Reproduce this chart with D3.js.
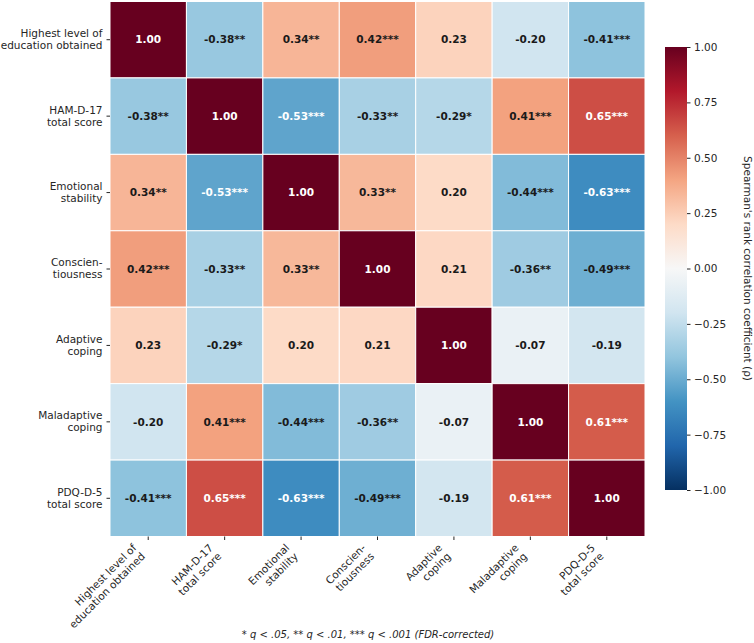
<!DOCTYPE html>
<html>
<head>
<meta charset="utf-8">
<script src="https://cdn.jsdelivr.net/npm/d3@7"></script>
<style>
  body { margin: 0; background: #fff; }
  svg { font-family: "DejaVu Sans", sans-serif; }
</style>
</head>
<body>
<div id="chart"></div>
<script>
// variables, in matrix order (two-line labels)
const varLabels = [
    ["Highest level of", "education obtained"],
    ["HAM-D-17", "total score"],
    ["Emotional", "stability"],
    ["Conscien-", "tiousness"],
    ["Adaptive", "coping"],
    ["Maladaptive", "coping"],
    ["PDQ-D-5", "total score"]
];

// Spearman's rho
const rho = [
    [1.00, -0.38, 0.34, 0.42, 0.23, -0.20, -0.41],
    [-0.38, 1.00, -0.53, -0.33, -0.29, 0.41, 0.65],
    [0.34, -0.53, 1.00, 0.33, 0.20, -0.44, -0.63],
    [0.42, -0.33, 0.33, 1.00, 0.21, -0.36, -0.49],
    [0.23, -0.29, 0.20, 0.21, 1.00, -0.07, -0.19],
    [-0.20, 0.41, -0.44, -0.36, -0.07, 1.00, 0.61],
    [-0.41, 0.65, -0.63, -0.49, -0.19, 0.61, 1.00]
];

// significance markers (FDR-corrected q)
const stars = [
    ["", "**", "**", "***", "", "", "***"],
    ["**", "", "***", "**", "*", "***", "***"],
    ["**", "***", "", "**", "", "***", "***"],
    ["***", "**", "**", "", "", "**", "***"],
    ["", "*", "", "", "", "", ""],
    ["", "***", "***", "**", "", "", "***"],
    ["***", "***", "***", "***", "", "***", ""]
];

const cbTicks = [1, 0.75, 0.5, 0.25, 0, -0.25, -0.5, -0.75, -1];

const canvWidth = 754, canvHeight = 643;
const hm = {left: 110, top: 1.5, size: 535};
const cb = {left: 665, top: 47, width: 22, height: 443};
const fontSize = 10.5;

const svg = d3.select('#chart')
    .append('svg')
    .attr('width', canvWidth)
    .attr('height', canvHeight);

const keys = varLabels.map(d => d.join(' '));

const xScale = d3.scaleBand().domain(keys).range([hm.left, hm.left + hm.size]);
const yScale = d3.scaleBand().domain(keys).range([hm.top, hm.top + hm.size]);

// RdBu_r, linear between the 11 brewer colours (like matplotlib)
const brewer = d3.schemeRdBu[11].slice().reverse();
const colorScale = d3.scaleLinear()
    .domain(d3.range(11).map(i => -1 + i * 0.2))
    .range(brewer)
    .interpolate(d3.interpolateRgb);

const cells = [];
rho.forEach((row, i) => row.forEach((v, j) => {
    cells.push({row: keys[i], col: keys[j], v: v, star: stars[i][j]});
}));

// cells
svg.append('g')
    .selectAll('rect')
    .data(cells)
    .enter()
    .append('rect')
    .attr('x', d => xScale(d.col))
    .attr('y', d => yScale(d.row))
    .attr('width', xScale.bandwidth())
    .attr('height', yScale.bandwidth())
    .attr('fill', d => colorScale(d.v))
    .attr('stroke', '#fff')
    .attr('stroke-width', 1);

// annotations: white text on the dark cells
svg.append('g')
    .selectAll('text')
    .data(cells)
    .enter()
    .append('text')
    .attr('x', d => xScale(d.col) + xScale.bandwidth() / 2)
    .attr('y', d => yScale(d.row) + yScale.bandwidth() / 2)
    .attr('dy', '0.36em')
    .attr('text-anchor', 'middle')
    .style('font-size', fontSize + 'px')
    .style('font-weight', 'bold')
    .style('fill', d => Math.abs(d.v) >= 0.5 ? '#fff' : '#1a1a1a')
    .text(d => d3.format('.2f')(d.v).replace('−', '-') + d.star);

// y axis
const yAxis = svg.append('g')
    .attr('transform', `translate(${hm.left},0)`)
    .call(d3.axisLeft(yScale).tickSize(3.5).tickPadding(4));
yAxis.select('.domain').remove();
yAxis.selectAll('line').attr('stroke', '#262626');
yAxis.selectAll('text').each(function (d, i) {
    const t = d3.select(this).text(null)
        .attr('dy', null)
        .style('font-size', fontSize + 'px')
        .style('font-family', '"DejaVu Sans", sans-serif')
        .attr('fill', '#262626');
    t.append('tspan').attr('x', -7.5).attr('dy', '-0.25em').text(varLabels[i][0]);
    t.append('tspan').attr('x', -7.5).attr('dy', '1.15em').text(varLabels[i][1]);
});

// x axis, labels rotated 45 degrees
const xAxis = svg.append('g')
    .attr('transform', `translate(0,${hm.top + hm.size})`)
    .call(d3.axisBottom(xScale).tickSize(3.5));
xAxis.select('.domain').remove();
xAxis.selectAll('line').attr('stroke', '#262626');
xAxis.selectAll('text').each(function (d, i) {
    const t = d3.select(this).text(null)
        .attr('y', null)
        .attr('dy', null)
        .attr('text-anchor', 'end')
        .attr('transform', 'translate(-11,12) rotate(-45)')
        .style('font-size', fontSize + 'px')
        .style('font-family', '"DejaVu Sans", sans-serif')
        .attr('fill', '#262626');
    t.append('tspan').attr('x', 0).attr('dy', 0).text(varLabels[i][0]);
    t.append('tspan').attr('x', 0).attr('dy', 12).text(varLabels[i][1]);
});

// colour bar
const grad = svg.append('defs')
    .append('linearGradient')
    .attr('id', 'cbGrad')
    .attr('x1', 0).attr('y1', 1)
    .attr('x2', 0).attr('y2', 0);
grad.selectAll('stop')
    .data(brewer)
    .enter()
    .append('stop')
    .attr('offset', (d, i) => i / 10)
    .attr('stop-color', d => d);

svg.append('rect')
    .attr('x', cb.left)
    .attr('y', cb.top)
    .attr('width', cb.width)
    .attr('height', cb.height)
    .attr('fill', 'url(#cbGrad)');

const cbScale = d3.scaleLinear().domain([-1, 1]).range([cb.top + cb.height, cb.top]);
const cbAxis = svg.append('g')
    .attr('transform', `translate(${cb.left + cb.width},0)`)
    .call(d3.axisRight(cbScale).tickValues(cbTicks).tickSize(3.5).tickPadding(3.5)
        .tickFormat(d3.format('.2f')));
cbAxis.select('.domain').remove();
cbAxis.selectAll('line').attr('stroke', '#262626');
cbAxis.selectAll('text')
    .style('font-size', fontSize + 'px')
    .style('font-family', '"DejaVu Sans", sans-serif')
    .attr('fill', '#262626');

svg.append('text')
    .attr('transform', `translate(744,${cb.top + cb.height / 2}) rotate(90)`)
    .attr('text-anchor', 'middle')
    .style('font-size', fontSize + 'px')
    .style('fill', '#262626')
    .text("Spearman's rank correlation coefficient (ρ)");

// footnote
svg.append('text')
    .attr('x', 368)
    .attr('y', 638)
    .attr('text-anchor', 'middle')
    .style('font-size', '10px')
    .style('font-style', 'italic')
    .style('fill', '#262626')
    .text('* q < .05, ** q < .01, *** q < .001 (FDR-corrected)');
</script>
</body>
</html>
